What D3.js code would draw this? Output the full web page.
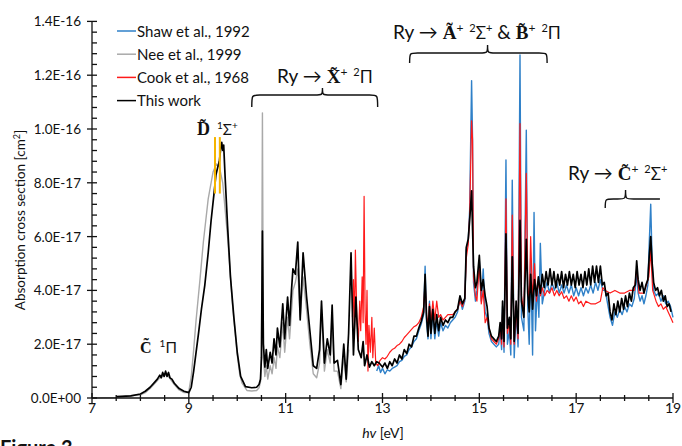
<!DOCTYPE html>
<html>
<head>
<meta charset="utf-8">
<script src="https://cdn.jsdelivr.net/npm/d3@7"></script>
<style>
  body { margin: 0; background: #fff; }
  text { font-family: Lato, "Open Sans", sans-serif; fill: #111; }
  .serif { font-family: "Liberation Serif", "DejaVu Serif", serif; font-weight: bold; }
  .line { fill: none; stroke-linejoin: round; }
</style>
</head>
<body>
<script>
// cross sections in units of 1E-17 cm^2, photon energy in eV
var shaw = [[12.88,1.0],[12.92,1.2],[12.96,0.95],[13.0,1.1],[13.05,0.9],[13.1,1.05],[13.15,1.0],[13.2,1.1],[13.25,1.15],[13.3,1.2],[13.35,1.35],[13.4,1.4],[13.45,1.55],[13.5,1.6],[13.55,1.8],[13.6,1.9],[13.65,2.1],[13.7,2.2],[13.75,2.5],[13.8,2.75],[13.85,3.1],[13.88,4.9],[13.91,2.8],[13.94,2.2],[13.97,3.6],[14.0,2.2],[14.04,3.2],[14.08,2.2],[14.12,2.9],[14.16,2.3],[14.2,2.8],[14.25,2.5],[14.3,2.7],[14.35,2.6],[14.4,2.8],[14.45,2.9],[14.5,3.0],[14.55,3.2],[14.6,3.7],[14.65,3.3],[14.7,3.6],[14.73,5.5],[14.77,5.8],[14.8,7.0],[14.84,11.8],[14.86,9.6],[14.88,4.3],[14.92,3.6],[14.95,4.0],[15.0,5.1],[15.04,3.6],[15.08,4.8],[15.12,3.2],[15.16,3.0],[15.2,2.4],[15.25,2.1],[15.3,2.0],[15.35,1.9],[15.4,2.0],[15.43,2.6],[15.46,1.8],[15.48,3.4],[15.51,1.7],[15.55,8.85],[15.58,2.0],[15.62,2.5],[15.65,1.6],[15.68,8.1],[15.72,1.5],[15.76,3.2],[15.8,1.9],[15.84,12.75],[15.87,3.0],[15.92,2.5],[15.97,9.96],[16.0,3.4],[16.03,2.0],[16.06,5.2],[16.1,1.6],[16.13,6.9],[16.16,2.5],[16.2,4.2],[16.23,3.0],[16.26,5.75],[16.3,3.5],[16.35,4.0],[16.4,4.3],[16.45,3.9],[16.5,4.3],[16.55,4.0],[16.6,4.3],[16.65,3.9],[16.7,4.2],[16.75,3.9],[16.8,4.2],[16.85,3.9],[16.9,4.2],[16.95,3.8],[17.0,4.1],[17.05,3.8],[17.1,4.1],[17.15,3.8],[17.2,4.1],[17.25,3.9],[17.3,4.2],[17.35,3.9],[17.4,4.3],[17.45,4.0],[17.5,4.4],[17.55,4.0],[17.6,4.0],[17.65,3.5],[17.7,3.0],[17.75,2.7],[17.8,3.2],[17.85,3.0],[17.9,3.3],[17.95,3.1],[18.0,3.4],[18.05,3.2],[18.1,3.5],[18.15,3.4],[18.2,3.7],[18.25,4.6],[18.28,3.9],[18.32,3.6],[18.36,3.8],[18.4,3.5],[18.44,3.8],[18.48,4.2],[18.51,5.8],[18.54,7.2],[18.57,5.0],[18.6,4.0],[18.65,3.8],[18.7,3.9],[18.75,3.6],[18.8,3.8],[18.85,3.5],[18.9,3.6],[18.95,3.4],[19.0,3.0]];

var nee = [[7.0,0],[7.5,0.02],[8.0,0.12],[8.1,0.2],[8.2,0.35],[8.3,0.55],[8.4,0.75],[8.5,0.85],[8.55,0.85],[8.6,0.75],[8.7,0.5],[8.8,0.3],[8.9,0.2],[8.95,0.2],[9.0,0.25],[9.05,0.8],[9.1,1.8],[9.15,2.9],[9.23,4.4],[9.3,5.8],[9.4,7.4],[9.5,8.4],[9.57,8.7],[9.63,8.6],[9.7,8.0],[9.8,6.0],[9.9,3.5],[10.0,1.6],[10.05,0.9],[10.1,0.55],[10.2,0.28],[10.3,0.26],[10.4,0.28],[10.45,0.38],[10.48,0.6],[10.5,1.5],[10.52,10.6],[10.54,1.5],[10.57,0.8],[10.6,1.2],[10.63,0.7],[10.68,1.2],[10.72,0.9],[10.76,1.5],[10.8,1.1],[10.83,1.9],[10.88,1.5],[10.94,2.8],[10.98,1.7],[11.04,3.0],[11.08,2.2],[11.12,3.2],[11.15,4.0],[11.2,4.3],[11.25,4.8],[11.3,3.0],[11.36,4.5],[11.43,3.3],[11.5,2.0],[11.57,0.9],[11.64,0.75],[11.7,1.3],[11.74,3.3],[11.8,1.0],[11.86,1.8],[11.92,1.3],[11.96,3.0],[12.0,1.0],[12.07,1.0],[12.14,0.35],[12.2,1.6],[12.25,0.6],[12.3,1.8]];

var cook = [[12.38,3.0],[12.4,4.4],[12.42,2.5],[12.44,5.5],[12.47,3.0],[12.5,2.1],[12.53,3.6],[12.55,2.5],[12.58,4.5],[12.6,2.8],[12.62,7.5],[12.64,3.2],[12.66,2.0],[12.68,4.0],[12.7,1.0],[12.72,2.7],[12.75,1.7],[12.78,3.0],[12.8,1.5],[12.83,2.6],[12.86,1.3],[12.9,1.2],[12.95,1.4],[13.0,1.5],[13.05,1.45],[13.1,1.55],[13.15,1.7],[13.2,1.8],[13.25,1.85],[13.3,1.95],[13.35,2.0],[13.4,2.1],[13.45,2.25],[13.5,2.35],[13.55,2.45],[13.6,2.55],[13.65,2.65],[13.7,2.7],[13.75,2.8],[13.8,3.0],[13.85,3.4],[13.88,4.3],[13.91,3.1],[13.94,2.7],[13.97,3.5],[14.0,2.8],[14.04,3.6],[14.08,2.9],[14.12,3.6],[14.16,3.0],[14.2,3.1],[14.25,2.9],[14.3,3.0],[14.35,3.1],[14.4,3.1],[14.45,3.1],[14.5,3.2],[14.55,3.3],[14.6,3.6],[14.65,3.4],[14.7,3.7],[14.73,5.2],[14.77,5.7],[14.8,6.8],[14.84,10.3],[14.86,9.6],[14.88,4.5],[14.92,3.8],[14.95,3.6],[15.0,5.0],[15.04,3.5],[15.08,4.0],[15.12,2.8],[15.16,3.0],[15.2,2.6],[15.25,2.2],[15.3,2.1],[15.35,2.0],[15.4,2.2],[15.43,2.6],[15.46,2.0],[15.48,3.2],[15.51,1.9],[15.55,7.4],[15.58,2.4],[15.62,2.8],[15.65,2.0],[15.68,6.8],[15.72,2.0],[15.76,3.3],[15.8,2.2],[15.84,10.2],[15.87,3.8],[15.92,3.2],[15.97,8.35],[16.0,4.2],[16.03,3.5],[16.06,6.0],[16.1,3.6],[16.14,5.0],[16.18,3.6],[16.22,4.4],[16.26,3.8],[16.3,4.1],[16.35,3.8],[16.4,4.0],[16.45,3.9],[16.5,4.1],[16.55,3.8],[16.6,4.0],[16.65,3.8],[16.7,3.95],[16.75,3.7],[16.8,3.8],[16.85,3.6],[16.9,3.8],[16.95,3.6],[17.0,3.75],[17.05,3.5],[17.1,3.6],[17.15,3.4],[17.2,3.6],[17.3,3.5],[17.4,3.5],[17.5,3.6],[17.55,4.1],[17.6,4.0],[17.7,3.9],[17.8,4.0],[17.9,3.9],[18.0,3.9],[18.1,4.0],[18.2,4.0],[18.25,4.8],[18.3,3.9],[18.4,3.9],[18.5,4.5],[18.54,5.5],[18.58,4.0],[18.65,3.6],[18.7,3.4],[18.75,3.5],[18.8,3.3],[18.85,3.4],[18.9,3.2],[18.95,3.0],[19.0,2.8]];

var thisWork = [[7.5,0.05],[7.8,0.08],[8.0,0.15],[8.1,0.25],[8.2,0.4],[8.3,0.6],[8.35,0.7],[8.4,0.85],[8.43,0.75],[8.46,0.95],[8.49,0.8],[8.52,1.0],[8.55,0.8],[8.58,0.95],[8.61,0.75],[8.65,0.7],[8.7,0.55],[8.8,0.35],[8.9,0.25],[9.0,0.2],[9.05,0.4],[9.1,1.0],[9.2,2.4],[9.26,3.3],[9.33,4.2],[9.4,5.4],[9.46,6.6],[9.52,7.6],[9.56,8.3],[9.6,8.6],[9.63,8.8],[9.66,9.3],[9.68,9.5],[9.7,9.2],[9.72,9.4],[9.75,8.2],[9.8,6.4],[9.86,4.5],[9.93,3.0],[10.0,1.7],[10.07,0.8],[10.17,0.42],[10.3,0.38],[10.4,0.4],[10.45,0.5],[10.48,0.7],[10.5,1.5],[10.52,6.2],[10.54,2.0],[10.57,1.15],[10.6,1.8],[10.63,1.1],[10.68,1.7],[10.72,1.3],[10.76,2.2],[10.8,1.6],[10.83,2.6],[10.88,1.9],[10.94,3.5],[10.98,2.2],[11.04,3.75],[11.08,2.7],[11.12,4.0],[11.15,4.8],[11.2,4.6],[11.25,5.8],[11.3,2.9],[11.36,5.4],[11.43,3.8],[11.5,2.5],[11.57,1.2],[11.64,1.1],[11.7,1.8],[11.74,3.6],[11.8,1.3],[11.86,2.2],[11.92,1.6],[11.96,3.45],[12.0,1.3],[12.07,1.4],[12.14,0.5],[12.2,2.0],[12.25,0.7],[12.3,2.4],[12.35,5.4],[12.4,1.6],[12.45,3.75],[12.5,1.8],[12.56,1.5],[12.6,2.1],[12.63,1.2],[12.68,1.6],[12.73,1.15],[12.78,1.35],[12.83,1.2],[12.88,1.35],[12.93,1.3],[13.0,1.15],[13.05,1.3],[13.1,1.1],[13.15,1.35],[13.2,1.2],[13.25,1.45],[13.3,1.3],[13.35,1.6],[13.4,1.45],[13.45,1.8],[13.5,1.65],[13.55,2.0],[13.6,1.9],[13.65,2.3],[13.7,2.3],[13.75,2.6],[13.8,2.85],[13.85,3.2],[13.88,4.6],[13.91,3.0],[13.94,2.3],[13.97,3.4],[14.0,2.4],[14.04,3.3],[14.08,2.4],[14.12,3.1],[14.16,2.5],[14.2,3.0],[14.25,2.7],[14.3,2.9],[14.35,2.8],[14.4,3.0],[14.45,3.0],[14.5,3.2],[14.55,3.3],[14.6,3.8],[14.65,3.5],[14.7,3.7],[14.73,5.6],[14.77,5.9],[14.8,6.6],[14.84,7.7],[14.88,4.9],[14.92,4.1],[14.95,4.3],[15.0,5.3],[15.04,4.0],[15.08,4.4],[15.12,3.8],[15.16,3.4],[15.2,2.6],[15.25,2.3],[15.3,2.2],[15.35,2.1],[15.4,2.3],[15.43,2.8],[15.46,2.2],[15.48,3.6],[15.51,2.1],[15.55,6.1],[15.58,2.6],[15.62,3.0],[15.65,2.2],[15.68,5.25],[15.72,2.1],[15.76,3.6],[15.8,2.4],[15.84,6.6],[15.87,3.6],[15.92,3.0],[15.97,5.9],[16.0,3.9],[16.03,3.2],[16.06,4.6],[16.1,3.3],[16.14,4.4],[16.18,3.8],[16.22,4.5],[16.26,3.9],[16.3,4.6],[16.34,4.1],[16.38,4.7],[16.42,4.2],[16.46,4.8],[16.5,4.2],[16.54,4.7],[16.58,4.1],[16.62,4.6],[16.66,4.2],[16.7,4.7],[16.74,4.1],[16.78,4.6],[16.82,4.2],[16.86,4.7],[16.9,4.2],[16.94,4.6],[16.98,4.1],[17.02,4.7],[17.06,4.2],[17.1,4.6],[17.14,4.1],[17.18,4.7],[17.22,4.2],[17.26,4.8],[17.3,4.2],[17.34,4.9],[17.38,4.3],[17.42,4.9],[17.46,4.3],[17.5,4.9],[17.54,4.2],[17.58,4.3],[17.62,3.8],[17.66,3.9],[17.7,3.2],[17.74,2.9],[17.78,3.5],[17.82,3.1],[17.86,3.6],[17.9,3.2],[17.94,3.7],[17.98,3.3],[18.02,3.8],[18.06,3.4],[18.1,3.9],[18.14,3.6],[18.18,4.1],[18.22,4.2],[18.25,5.1],[18.28,4.4],[18.32,4.0],[18.36,4.3],[18.4,3.9],[18.44,4.2],[18.48,4.4],[18.51,5.3],[18.54,6.0],[18.57,5.0],[18.6,4.3],[18.64,4.0],[18.68,4.1],[18.72,3.8],[18.76,4.0],[18.8,3.6],[18.84,3.8],[18.88,3.4],[18.92,3.5],[18.96,3.2]];

var seriesNames = ["Shaw et al., 1992", "Nee et al., 1999", "Cook et al., 1968", "This work"];
var xTicks = [7, 9, 11, 13, 15, 17, 19];
var yTicks = [0, 2, 4, 6, 8, 10, 12, 14];
var yTickLabels = ["0.0E+00", "2.0E-17", "4.0E-17", "6.0E-17", "8.0E-17", "1.0E-16", "1.2E-16", "1.4E-16"];
var dBandMarks = [9.54, 9.64];   // orange markers on the D band

var W = 682, H = 446;
var x = d3.scaleLinear().domain([7, 19]).range([92, 673]);
var y = d3.scaleLinear().domain([0, 14]).range([398, 21.4]);

var svg = d3.select("body").append("svg")
    .attr("width", W)
    .attr("height", H);

var line = d3.line()
    .x(function(d) { return x(d[0]); })
    .y(function(d) { return y(d[1]); });

// draw order: Nee, Shaw, Cook, this work on top
var layers = [
  {data: nee, color: "#a9a9a9", w: 1.4},
  {data: shaw, color: "#2f80c8", w: 1.4},
  {data: cook, color: "#ff1a1a", w: 1.2},
  {data: thisWork, color: "#000", w: 1.7}
];
svg.selectAll("path.line").data(layers).enter().append("path")
    .attr("class", "line")
    .attr("d", function(d) { return line(d.data); })
    .style("stroke", function(d) { return d.color; })
    .style("stroke-width", function(d) { return d.w; });

// orange marks on D peak
svg.selectAll("line.dmark").data(dBandMarks).enter().append("line")
    .attr("x1", function(d) { return x(d); }).attr("x2", function(d) { return x(d); })
    .attr("y1", y(9.7)).attr("y2", y(7.6))
    .style("stroke", "#f5b400").style("stroke-width", 2);

// axes
var ax = svg.append("g").style("stroke", "#111").style("stroke-width", 1.3);
ax.append("line").attr("x1", x(7)).attr("x2", x(19)).attr("y1", y(0)).attr("y2", y(0));
ax.append("line").attr("x1", x(7)).attr("x2", x(7)).attr("y1", y(0)).attr("y2", y(14));

d3.range(7, 19.01, 0.5).forEach(function(v) {
  var major = xTicks.indexOf(v) >= 0;
  ax.append("line").attr("x1", x(v)).attr("x2", x(v))
      .attr("y1", y(0) - (major ? 5 : 3)).attr("y2", y(0) + (major ? 5 : 3));
});
d3.range(0, 14.01, 0.4).forEach(function(v) {
  var major = Math.abs(v / 2 - Math.round(v / 2)) < 1e-6;
  ax.append("line").attr("y1", y(v)).attr("y2", y(v))
      .attr("x1", x(7) - (major ? 5 : 0)).attr("x2", x(7) + 5);
});

svg.selectAll("text.xt").data(xTicks).enter().append("text")
    .attr("x", function(d) { return x(d); })
    .attr("y", 413)
    .attr("text-anchor", "middle")
    .style("font-size", "14px")
    .text(function(d) { return d; });

svg.selectAll("text.yt").data(yTicks).enter().append("text")
    .attr("x", 81)
    .attr("y", function(d) { return y(d) + 5; })
    .attr("text-anchor", "end")
    .style("font-size", "13.5px")
    .text(function(d, i) { return yTickLabels[i]; });

svg.append("text")
    .attr("transform", "translate(25,220) rotate(-90)")
    .attr("text-anchor", "middle")
    .style("font-size", "13.5px")
    .html('Absorption cross section [cm<tspan dy="-5" font-size="9">2</tspan><tspan dy="5">]</tspan>');

svg.append("text")
    .attr("x", 383).attr("y", 438)
    .attr("text-anchor", "middle")
    .style("font-size", "14px")
    .html('<tspan font-style="italic">hv</tspan> [eV]');

svg.append("text")
    .attr("x", 0).attr("y", 455)
    .style("font-size", "20px").style("font-weight", "bold")
    .text("Figure 3");

// legend
var legend = svg.append("g");
var legendColors = ["#2f80c8", "#a9a9a9", "#ff1a1a", "#000"];
seriesNames.forEach(function(name, i) {
  var yy = 31 + i * 23.2;
  legend.append("line").attr("x1", 117).attr("x2", 136).attr("y1", yy).attr("y2", yy)
      .style("stroke", legendColors[i]).style("stroke-width", 1.5);
  legend.append("text").attr("x", 137).attr("y", yy + 5.5)
      .style("font-size", "15px").text(name);
});

// state labels
svg.append("text").attr("x", 140).attr("y", 353).style("font-size", "16px")
    .html('<tspan class="serif">C\u0303</tspan><tspan dx="8" dy="-6" font-size="10">1</tspan><tspan dy="6" font-size="15">\u03A0</tspan>');
svg.append("text").attr("x", 197).attr("y", 135).style("font-size", "16px")
    .html('<tspan class="serif" font-size="18">D\u0303</tspan><tspan dx="7" dy="-6" font-size="10">1</tspan><tspan dy="6" font-size="15">\u03A3</tspan><tspan dy="-6" font-size="10">+</tspan>');

svg.append("text").attr("x", 277).attr("y", 83).style("font-size", "19px")
    .html('Ry \u2192 <tspan class="serif">X\u0303</tspan><tspan dy="-7" font-size="12">+</tspan><tspan dx="6" font-size="11">2</tspan><tspan dy="7" font-size="17">\u03A0</tspan>');
svg.append("text").attr("x", 393).attr("y", 39).style("font-size", "19px")
    .html('Ry \u2192 <tspan class="serif">A\u0303</tspan><tspan dy="-7" font-size="12">+</tspan><tspan dx="6" font-size="11">2</tspan><tspan dy="7" font-size="17">\u03A3</tspan><tspan dy="-7" font-size="11">+</tspan><tspan dy="7"> &amp; </tspan><tspan class="serif">B\u0303</tspan><tspan dy="-7" font-size="12">+</tspan><tspan dx="6" font-size="11">2</tspan><tspan dy="7" font-size="17">\u03A0</tspan>');
svg.append("text").attr("x", 568).attr("y", 180).style("font-size", "19px")
    .html('Ry \u2192 <tspan class="serif">C\u0303</tspan><tspan dy="-7" font-size="12">+</tspan><tspan dx="6" font-size="11">2</tspan><tspan dy="7" font-size="17">\u03A3</tspan><tspan dy="-7" font-size="11">+</tspan>');

// curly braces
function brace(x0, xc, x1, yb, yh, yt, openRight) {
  var r = 8;
  var p = d3.path();
  p.moveTo(x0, yb);
  p.bezierCurveTo(x0, yh, x0, yh, x0 + r, yh);
  p.lineTo(xc - r, yh);
  p.bezierCurveTo(xc, yh, xc, yh, xc, yt);
  p.bezierCurveTo(xc, yh, xc, yh, xc + r, yh);
  if (openRight) {
    p.lineTo(x1, yh);
  } else {
    p.lineTo(x1 - r, yh);
    p.bezierCurveTo(x1, yh, x1, yh, x1, yb);
  }
  svg.append("path").attr("d", p.toString())
      .style("fill", "none").style("stroke", "#111").style("stroke-width", 1.4);
}
brace(x(10.3), x(11.76), x(12.9), 107, 95, 88, false);
brace(x(13.56), x(15.17), x(16.4), 63, 53, 45, false);
brace(x(17.6), x(18.02), x(18.73), 208, 199, 190, true);
</script>
</body>
</html>
